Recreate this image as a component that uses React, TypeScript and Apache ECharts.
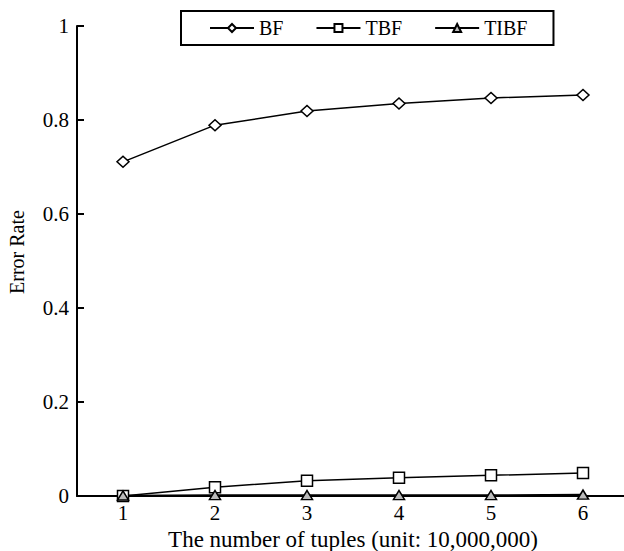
import React, { useEffect, useRef } from "react";
import * as echarts from "echarts";

const categories = ["1", "2", "3", "4", "5", "6"];
const bfValues = [0.711, 0.789, 0.819, 0.835, 0.847, 0.853];
const tbfValues = [0.0, 0.0185, 0.0326, 0.039, 0.044, 0.049];
const tibfValues = [0.001, 0.002, 0.002, 0.002, 0.002, 0.003];

const FONT = '"Liberation Serif", "Times New Roman", serif';

export default function App() {
  const ref = useRef<HTMLDivElement>(null);
  useEffect(() => {
    if (!ref.current) return;
    const chart = echarts.init(ref.current, undefined, { renderer: "svg" });
    const seriesCommon = {
      type: "line" as const,
      lineStyle: { color: "#000", width: 1.5 },
      itemStyle: { color: "#fff", borderColor: "#000", borderWidth: 1.5 },
      symbolSize: 10,
      showSymbol: true,
    };
    chart.setOption({
      animation: false,
      backgroundColor: "#fff",
      textStyle: { fontFamily: FONT, color: "#000" },
      grid: { left: 77, right: -5, top: 26, bottom: 55, outerBoundsMode: "none", containLabel: false },
      legend: {
        left: 181,
        top: 11,
        padding: [7, 26, 7, 28],
        borderColor: "#000",
        borderWidth: 2,
        itemWidth: 44,
        itemHeight: 10,
        itemGap: 32,
        textStyle: { fontFamily: FONT, fontSize: 20, color: "#000" },
        data: ["BF", "TBF", "TIBF"],
      },
      xAxis: {
        type: "category",
        data: categories,
        boundaryGap: true,
        name: "The number of tuples (unit: 10,000,000)",
        nameLocation: "middle",
        nameGap: 31,
        nameTextStyle: { fontFamily: FONT, fontSize: 23, color: "#000" },
        axisLine: { lineStyle: { color: "#000", width: 2 } },
        axisTick: { inside: true, length: 6, lineStyle: { color: "#000", width: 2 } },
        axisLabel: { fontFamily: FONT, fontSize: 21, color: "#000", margin: 6 },
        splitLine: { show: false },
      },
      yAxis: {
        type: "value",
        min: 0,
        max: 1,
        interval: 0.2,
        name: "Error Rate",
        nameLocation: "middle",
        nameGap: 50,
        nameTextStyle: { fontFamily: FONT, fontSize: 20, color: "#000", padding: [0, 0, 0, 18] },
        axisLine: { show: true, lineStyle: { color: "#000", width: 2 } },
        axisTick: { show: true, inside: true, length: 7, lineStyle: { color: "#000", width: 2 } },
        axisLabel: { fontFamily: FONT, fontSize: 21, color: "#000", margin: 8 },
        splitLine: { show: false },
      },
      series: [
        { ...seriesCommon, name: "BF", data: bfValues, symbol: "diamond", symbolSize: [12, 11] },
        { ...seriesCommon, name: "TBF", data: tbfValues, symbol: "rect", symbolSize: 11 },
        {
          ...seriesCommon,
          name: "TIBF",
          data: tibfValues,
          symbol: "triangle",
          symbolSize: [11, 9],
          itemStyle: { color: "#bbb", borderColor: "#000", borderWidth: 1.5 },
        },
      ],
    });
    return () => chart.dispose();
  }, []);
  return (
    <div
      ref={ref}
      style={{ position: "fixed", left: 0, top: 0, width: 624, height: 551 }}
    />
  );
}
